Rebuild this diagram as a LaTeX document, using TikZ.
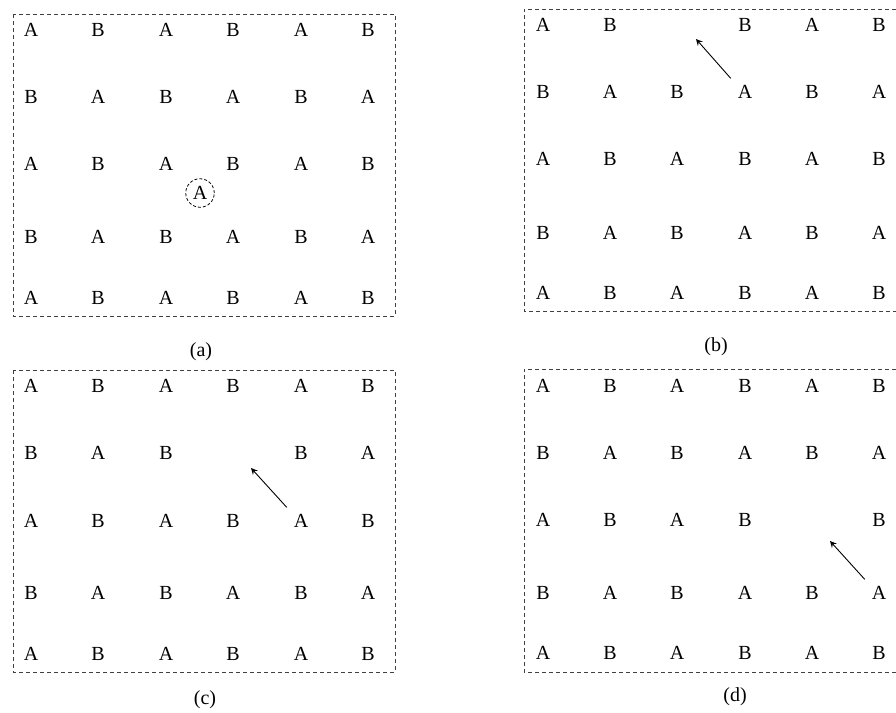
\documentclass[tikz,border=0pt]{standalone}
\usepackage{fontspec}
\setmainfont{Liberation Serif}
\usepackage{tikz}
\usetikzlibrary{shapes,arrows,positioning,calc}

% one panel of sites: #1 name, #2 column x's, #3 row y's, #4 empty site (row-col)
\newcommand{\sitegrid}[4]{%
  \foreach \y [count=\i] in {#3} {
    \foreach \x [count=\j] in {#2} {
      \pgfmathtruncatemacro{\k}{mod(\i+\j,2)}
      \edef\here{\i-\j}\def\hole{#4}
      \ifx\here\hole
        \coordinate (#1-\i-\j) at (\x,\y);
      \else
        \node[site] (#1-\i-\j) at (\x,\y) {\ifnum\k=0 A\else B\fi};
      \fi
    }
  }%
}

\begin{document}
\begin{tikzpicture}[x=0.5pt,y=-0.5pt,
    site/.style={inner sep=0.3333em},
    frame/.style={draw=black!75,dashed,dash pattern=on 2pt off 1.5pt,line width=0.5pt},
    caption/.style={inner sep=0pt},
    hop/.style={->,>=stealth,line width=0.45pt}]
    \useasboundingbox (0,0) rectangle (896,713);

    % (a) full lattice with an extra atom
    \draw[frame] (13,14) rectangle (395,316);
    \sitegrid{a}{31,98,166,233,301,368}{30,97,164,237,298}{0-0}
    \node[draw,circle,dashed,dash pattern=on 1.5pt off 1pt,inner sep=1.6pt] (extra) at (200,193) {A};
    \node[caption] (capa) at (201,352) {(a)};

    % (b)
    \draw[frame] (896,9) -| (524,311) -- (896,311);
    \sitegrid{b}{543,610,677,745,812,879}{25,92,159,233,293}{1-3}
    \coordinate (b-tip) at (696,39);
    \draw[hop] (b-2-4.north west) -- (b-tip);
    \node[caption] (capb) at (716,347) {(b)};

    % (c)
    \draw[frame] (13,370) rectangle (395,672);
    \sitegrid{c}{31,98,166,233,301,368}{386,453,521,593,654}{2-4}
    \coordinate (c-tip) at (251,468);
    \draw[hop] (c-3-5.north west) -- (c-tip);
    \node[caption] (capc) at (205,700) {(c)};

    % (d)
    \draw[frame] (896,369) -| (524,672) -- (896,672);
    \sitegrid{d}{543,610,677,745,812,879}{386,453,520,593,653}{3-5}
    \coordinate (d-tip) at (830,541);
    \draw[hop] (d-4-6.north west) -- (d-tip);
    \node[caption] (capd) at (735,697) {(d)};
\end{tikzpicture}
\end{document}
